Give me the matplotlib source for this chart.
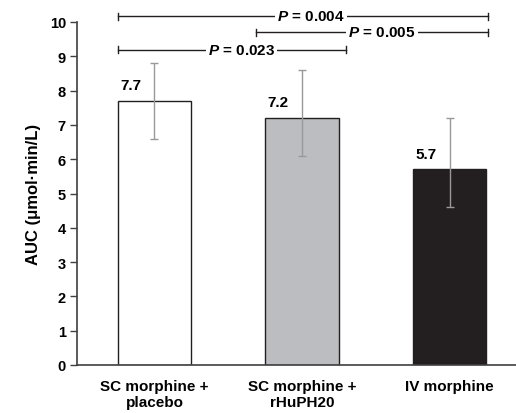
import matplotlib; matplotlib.use('Agg')
import matplotlib.pyplot as plt
import numpy as np

plt.rcParams['font.family'] = ['Liberation Sans', 'DejaVu Sans']
plt.rcParams['mathtext.fontset'] = 'custom'
plt.rcParams['mathtext.it'] = 'Liberation Sans:italic:bold'
plt.rcParams['mathtext.rm'] = 'Liberation Sans:bold'

groups = ["SC morphine +\nplacebo", "SC morphine +\nrHuPH20", "IV morphine"]
auc = [7.7, 7.2, 5.7]
err_lo = [1.1, 1.1, 1.1]
err_hi = [1.1, 1.4, 1.5]
bar_colors = ["white", "#bcbdc1", "#231f20"]

# significance brackets: (x start, x end, y, label, label x)
brackets = [(-0.25, 2.26, 10.17, "0.004", 1.06),
            (0.69, 2.26, 9.70, "0.005", 1.54),
            (-0.25, 1.30, 9.19, "0.023", 0.59)]

fig = plt.figure(figsize=(5.16, 4.14), dpi=100)
ax = fig.add_axes([77/516, 48/414, 1 - 77/516, (366 - 23)/414])

x = np.arange(len(groups))
ax.bar(x, auc, width=0.5, color=bar_colors, edgecolor="#231f20", linewidth=1.0, zorder=2)
ax.errorbar(x, auc, yerr=[err_lo, err_hi], fmt='none', ecolor="#999999",
            elinewidth=1.0, capsize=3, capthick=1.0, zorder=3)

for xi, v in zip(x, auc):
    ax.text(xi - 0.16, v + 0.26, f"{v:.1f}", ha='center', va='bottom',
            fontsize=11, fontweight='bold')

for x0, x1, y, p, tx in brackets:
    ax.plot([x0, x1], [y, y], color="#231f20", lw=1.0, clip_on=False, zorder=4)
    for xe in (x0, x1):
        ax.plot([xe, xe], [y - 0.1, y + 0.1], color="#231f20", lw=1.0,
                clip_on=False, zorder=4)
    ax.text(tx, y, f"$P$ = {p}", ha='center', va='center', fontsize=11,
            fontweight='bold', zorder=5,
            bbox=dict(facecolor='white', edgecolor='none', pad=1.5))

ax.set_ylim(0, 10)
ax.set_xlim(-0.525, 2.45)
ax.set_yticks(range(0, 11))
ax.set_xticks(x)
ax.set_xticklabels(groups, fontsize=11, fontweight='bold')
ax.tick_params(axis='x', length=0, pad=10)
ax.tick_params(axis='y', length=5, width=1.0, color="#404040", labelsize=10.5, pad=3)
for lab in ax.get_yticklabels():
    lab.set_fontweight('bold')
ax.set_ylabel("AUC (\u03bcmol\u00b7min/L)", fontsize=12, fontweight='bold', labelpad=6)

for s in ('top', 'right'):
    ax.spines[s].set_visible(False)
for s in ('left', 'bottom'):
    ax.spines[s].set_color("#404040")
    ax.spines[s].set_linewidth(1.2)

fig.savefig("out.png", dpi=100)
